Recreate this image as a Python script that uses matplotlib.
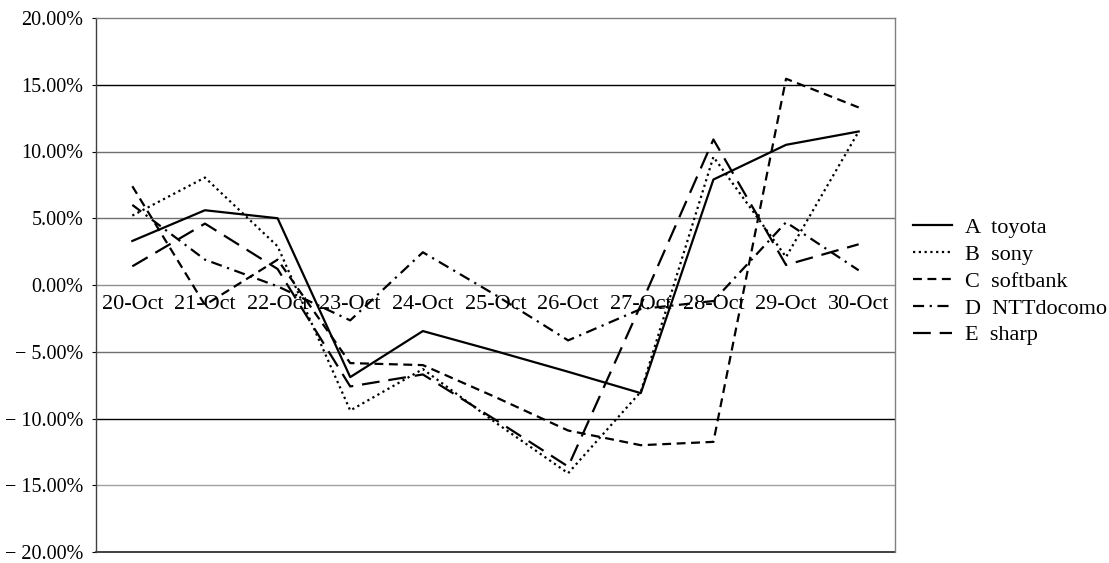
import matplotlib
matplotlib.use("Agg")
import matplotlib.pyplot as plt
import numpy as np

categories = ["20-Oct", "21-Oct", "22-Oct", "23-Oct", "24-Oct", "25-Oct",
              "26-Oct", "27-Oct", "28-Oct", "29-Oct", "30-Oct"]
toyota   = [3.3, 5.6, 5.0, -6.9, -3.45, -4.95, -6.5, -8.1, 7.9, 10.5, 11.5]
sony     = [5.2, 8.05, 2.9, -9.4, -6.3, -10.3, -14.1, -8.0, 9.6, 2.1, 11.5]
softbank = [7.4, -1.5, 1.9, -5.85, -6.0, -8.4, -10.9, -12.0, -11.75, 15.45, 13.3]
docomo   = [6.0, 1.9, -0.1, -2.65, 2.45, -0.75, -4.15, -1.8, -1.2, 4.7, 1.1]
sharp    = [1.4, 4.6, 1.2, -7.6, -6.7, -10.1, -13.6, -1.5, 10.9, 1.5, 3.05]
labels = ["A  toyota", "B  sony", "C  softbank", "D  NTTdocomo", "E  sharp"]
y_ticks = [-20, -15, -10, -5, 0, 5, 10, 15, 20]

plt.rcParams['font.family'] = ['Liberation Serif', 'DejaVu Serif']

fig = plt.figure(figsize=(11.09, 5.63), dpi=100)
ax = fig.add_axes([96/1109, 11/563, (895-96)/1109, (552-18)/563])

x = np.arange(len(categories))
series = [toyota, sony, softbank, docomo, sharp]
styles = [
    dict(linestyle='-', linewidth=1.6),
    dict(linestyle=(0, (1, 1.6)), linewidth=1.6),
    dict(linestyle=(0, (4, 2.5)), linewidth=1.6),
    dict(linestyle=(0, (5, 2.5, 1, 2.5)), linewidth=1.6),
    dict(linestyle=(0, (8, 4)), linewidth=1.6),
]
for s, st, lab in zip(series, styles, labels):
    ax.plot(x, s, color='black', label=lab, zorder=3, **st)

ax.set_xlim(-0.5, len(categories) - 0.5)
ax.set_ylim(-20, 20)

grid_colors = {15: '#000000', 10: '#707070', 5: '#707070', 0: '#909090',
               -5: '#707070', -10: '#000000', -15: '#a0a0a0'}
for v, c in grid_colors.items():
    ax.axhline(v, color=c, linewidth=1.0, zorder=1)

for side in ['top', 'right', 'left']:
    ax.spines[side].set_color('#808080')
    ax.spines[side].set_linewidth(1.0)
ax.spines['left'].set_color('#404040')
ax.spines['bottom'].set_visible(False)
ax.axhline(-20, color='#202020', linewidth=1.2, zorder=2, clip_on=False)

ax.set_yticks(y_ticks)
ax.set_yticklabels([f"{v:.2f}%".replace('-', '\u2212 ') for v in y_ticks], fontsize=14.5)
ax.tick_params(axis='y', length=3, width=0.8, pad=6, colors='black')

ax.set_xticks([])
for xi, cat in zip(x, categories):
    ax.annotate(cat, xy=(xi, 0), xytext=(0, -14), textcoords='offset points',
                ha='center', va='center', fontsize=16, zorder=4)

fig.legend(loc='center left', bbox_to_anchor=(913/1109, (563-281.5)/563),
           frameon=False, fontsize=16, handlelength=1.75, handletextpad=0.6,
           labelspacing=0.28, borderpad=0, borderaxespad=0)

fig.savefig("out.png", dpi=100)
